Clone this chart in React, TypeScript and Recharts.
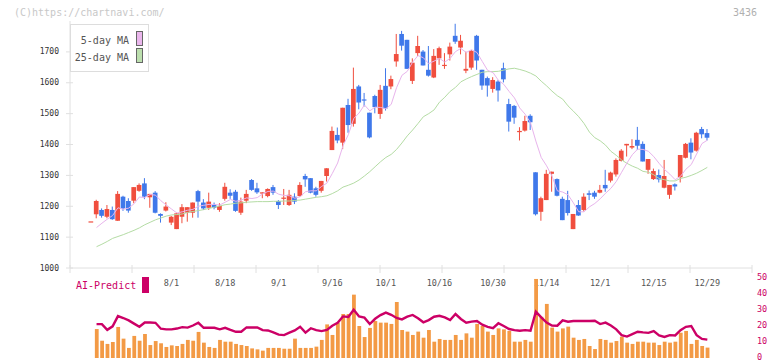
import { ComposedChart, Bar, Line, XAxis, YAxis } from 'recharts';

// tick labels shown under the price panel (trading-day index -> date)
const tickIdx = [15, 25, 35, 45, 55, 65, 75, 85, 95, 105, 115];
const tickLabels = ['8/1', '8/18', '9/1', '9/16', '10/1', '10/16', '10/30', '11/14', '12/1', '12/15', '12/29'];
const priceTicks = [1000, 1100, 1200, 1300, 1400, 1500, 1600, 1700];
const aiTicks = [0, 10, 20, 30, 40, 50];
const frameTicks = [0, 1, 2, 3, 4, 5, 6, 7, 8, 9, 10, 11];

const opens = [
  1151, 1174, 1188, 1166, 1188, 1153, 1231, 1217, 1218, 1250, 1274, 1229, 1244, 1175, 1186, 1147, 1126, 1166, 1179, 1179,
  1249, 1212, 1195, 1204, 1188, 1224, 1244, 1247, 1179, 1218, 1285, 1258, 1242, 1233, 1262, 1217, 1224, 1204, 1231, 1233,
  1298, 1291, 1258, 1250, 1298, 1382, 1431, 1406, 1528, 1467, 1588, 1546, 1503, 1557, 1499, 1590, 1588, 1669, 1758, 1739,
  1606, 1696, 1701, 1642, 1617, 1679, 1657, 1692, 1752, 1714, 1639, 1649, 1752, 1642, 1615, 1580, 1604, 1647, 1531, 1525,
  1440, 1445, 1493, 1310, 1182, 1220, 1305, 1288, 1224, 1220, 1126, 1204, 1188, 1242, 1244, 1244, 1269, 1283, 1303, 1347,
  1397, 1390, 1415, 1402, 1318, 1288, 1301, 1260, 1237, 1271, 1294, 1357, 1406, 1380, 1450, 1437,
];
const highs = [
  1151, 1221, 1193, 1204, 1199, 1249, 1234, 1226, 1262, 1274, 1291, 1240, 1249, 1177, 1213, 1169, 1179, 1207, 1197, 1212,
  1253, 1223, 1244, 1212, 1210, 1276, 1255, 1253, 1228, 1253, 1288, 1276, 1245, 1258, 1269, 1220, 1256, 1253, 1242, 1278,
  1305, 1291, 1263, 1282, 1323, 1458, 1455, 1519, 1548, 1649, 1593, 1567, 1503, 1561, 1593, 1647, 1623, 1758, 1768, 1739,
  1679, 1752, 1706, 1719, 1709, 1717, 1696, 1730, 1791, 1755, 1701, 1706, 1755, 1642, 1620, 1618, 1609, 1665, 1548, 1528,
  1456, 1493, 1498, 1310, 1231, 1318, 1312, 1290, 1231, 1250, 1175, 1220, 1242, 1251, 1250, 1269, 1318, 1312, 1355, 1385,
  1402, 1417, 1457, 1410, 1353, 1322, 1319, 1350, 1269, 1274, 1366, 1405, 1420, 1441, 1457, 1450,
];
const lows = [
  1151, 1161, 1163, 1161, 1156, 1153, 1185, 1179, 1210, 1247, 1223, 1195, 1177, 1147, 1183, 1139, 1126, 1145, 1150, 1163,
  1163, 1188, 1188, 1190, 1182, 1218, 1224, 1182, 1172, 1210, 1250, 1240, 1226, 1229, 1237, 1191, 1204, 1201, 1207, 1231,
  1263, 1242, 1231, 1244, 1280, 1382, 1404, 1385, 1438, 1458, 1514, 1523, 1420, 1501, 1483, 1510, 1579, 1652, 1704, 1645,
  1596, 1687, 1656, 1620, 1615, 1658, 1645, 1672, 1726, 1692, 1631, 1642, 1642, 1577, 1555, 1568, 1539, 1601, 1442, 1467,
  1413, 1442, 1447, 1170, 1153, 1220, 1247, 1232, 1155, 1170, 1126, 1169, 1183, 1220, 1224, 1242, 1247, 1277, 1296, 1345,
  1361, 1385, 1382, 1345, 1305, 1285, 1277, 1258, 1224, 1251, 1277, 1355, 1352, 1377, 1420, 1413,
];
const closes = [
  1151, 1217, 1169, 1191, 1158, 1240, 1193, 1186, 1262, 1269, 1231, 1240, 1179, 1169, 1199, 1166, 1177, 1197, 1197, 1212,
  1215, 1193, 1215, 1195, 1201, 1263, 1234, 1185, 1215, 1240, 1253, 1245, 1245, 1256, 1244, 1204, 1228, 1237, 1215, 1269,
  1287, 1244, 1237, 1282, 1323, 1444, 1413, 1519, 1463, 1580, 1536, 1544, 1423, 1521, 1577, 1517, 1612, 1693, 1720, 1645,
  1665, 1719, 1656, 1623, 1687, 1712, 1658, 1717, 1733, 1736, 1645, 1703, 1672, 1591, 1591, 1609, 1575, 1611, 1474, 1487,
  1444, 1476, 1472, 1174, 1226, 1305, 1312, 1234, 1155, 1178, 1175, 1170, 1231, 1237, 1231, 1253, 1258, 1309, 1350, 1380,
  1402, 1395, 1396, 1345, 1353, 1314, 1287, 1298, 1269, 1264, 1366, 1402, 1374, 1438, 1433, 1422,
];
const ma5 = [
  null, 1131, 1145, 1158, 1170, 1195, 1190, 1194, 1208, 1230, 1228, 1238, 1236, 1218, 1204, 1191, 1178, 1182, 1187, 1190,
  1200, 1203, 1206, 1206, 1204, 1213, 1222, 1216, 1220, 1227, 1225, 1228, 1240, 1248, 1249, 1239, 1235, 1234, 1226, 1231,
  1247, 1250, 1250, 1264, 1275, 1306, 1340, 1396, 1432, 1484, 1502, 1528, 1509, 1521, 1520, 1516, 1530, 1584, 1624, 1637,
  1667, 1688, 1681, 1662, 1670, 1679, 1667, 1679, 1701, 1711, 1698, 1707, 1698, 1669, 1640, 1633, 1608, 1595, 1572, 1551,
  1518, 1498, 1471, 1411, 1358, 1331, 1298, 1250, 1246, 1237, 1211, 1182, 1182, 1198, 1209, 1224, 1242, 1258, 1280, 1310,
  1340, 1367, 1385, 1384, 1378, 1361, 1339, 1319, 1304, 1286, 1297, 1320, 1335, 1369, 1403, 1414,
];
const ma25 = [
  null, 1069, 1077, 1086, 1096, 1102, 1108, 1115, 1122, 1130, 1140, 1148, 1156, 1162, 1168, 1172, 1173, 1175, 1180, 1183,
  1186, 1189, 1193, 1197, 1201, 1205, 1207, 1210, 1211, 1213, 1214, 1215, 1215, 1215, 1216, 1216, 1217, 1217, 1219, 1220,
  1223, 1226, 1229, 1231, 1234, 1241, 1250, 1262, 1268, 1275, 1285, 1298, 1312, 1328, 1344, 1358, 1368, 1384, 1405, 1428,
  1447, 1468, 1490, 1500, 1512, 1537, 1553, 1572, 1585, 1603, 1612, 1620, 1627, 1634, 1636, 1636, 1637, 1641, 1645, 1647,
  1643, 1638, 1631, 1622, 1605, 1590, 1573, 1558, 1547, 1525, 1508, 1490, 1468, 1440, 1422, 1412, 1398, 1378, 1365, 1350,
  1339, 1330, 1323, 1313, 1310, 1302, 1290, 1286, 1282, 1282, 1290, 1294, 1300, 1307, 1316, 1326,
];
const volume = [
  null, 181, 108, 88, 100, 194, 121, 63, 138, 108, 150, 81, 106, 92, 69, 79, 75, 88, 113, 108,
  163, 96, 69, 63, 113, 102, 102, 88, 81, 75, 60, 54, 46, 63, 63, 63, 58, 58, 121, 63,
  63, 63, 71, 113, 210, 144, 221, 275, 275, 396, 200, 131, 188, 231, 221, 221, 213, 350, 175, 165,
  144, 165, 127, 175, 102, 119, 113, 113, 144, 113, 154, 127, 213, 200, 165, 144, 185, 179, 169, 102,
  102, 113, 102, 494, 258, 338, 190, 165, 185, 196, 127, 113, 119, 75, 56, 119, 113, 96, 106, 133,
  96, 88, 102, 102, 96, 96, 81, 102, 96, 102, 158, 169, 88, 113, 75, 65,
];
const aiPredict = [
  null, 21.2, 21.2, 17.6, 19.8, 26.2, 25.0, 23.5, 21.5, 19.5, 22.2, 22.2, 22.0, 18.3, 17.9, 17.9, 18.4, 19.3, 19.0, 20.3,
  22.0, 18.9, 18.9, 18.9, 17.9, 18.9, 17.6, 16.4, 16.4, 19.1, 19.1, 19.1, 17.4, 17.2, 16.0, 14.6, 14.3, 15.8, 17.2, 19.5,
  15.9, 18.6, 17.4, 16.8, 17.6, 20.2, 22.0, 26.0, 25.6, 30.2, 26.0, 25.2, 21.2, 24.5, 26.8, 28.4, 27.0, 25.0, 24.1, 25.8,
  26.9, 24.8, 22.3, 23.7, 25.8, 26.4, 25.4, 23.7, 27.5, 24.4, 22.1, 22.7, 23.1, 20.8, 19.5, 18.7, 21.7, 20.0, 18.1, 17.4,
  17.0, 17.4, 17.0, 29.0, 25.4, 22.1, 20.3, 20.2, 23.5, 22.7, 23.1, 23.1, 23.1, 23.1, 23.3, 21.2, 22.1, 20.3, 17.9, 14.3,
  13.4, 14.9, 16.4, 16.0, 15.7, 16.8, 14.1, 13.2, 14.3, 14.1, 17.4, 19.5, 20.0, 14.3, 11.9, 11.5,
];

const data = closes.map((c, i) => ({
  i,
  open: opens[i],
  high: highs[i],
  low: lows[i],
  close: c,
  range: [lows[i], highs[i]],
  ma5: ma5[i],
  ma25: ma25[i],
  vol: volume[i],
  ai: aiPredict[i],
}));

// the frame of the price panel has evenly spaced tick marks that do not follow the dates
const frameData = frameTicks.map((k) => ({ k, v: 0 }));

const UP = '#f04e3e';
const DOWN = '#3f78ea';
const AXIS = '#e0e0e0';
const AI = '#cc0066';
const MONO = '"DejaVu Sans Mono", monospace';

const Candle = (props: any) => {
  const { x, y, width, height, payload } = props;
  if (!payload || x == null) return null;
  const { open, close, high, low } = payload;
  const color = close >= open ? UP : DOWN;
  const span = high - low;
  const k = span > 0 ? height / span : 0;
  const yOf = (v: number) => y + (high - v) * k;
  const top = yOf(Math.max(open, close));
  const bot = yOf(Math.min(open, close));
  const cx = x + width / 2;
  return (
    <g>
      <line x1={cx} x2={cx} y1={y} y2={y + height} stroke={color} strokeWidth={1} />
      <rect x={x} y={top} width={width} height={Math.max(bot - top, 1.2)} fill={color} />
    </g>
  );
};

const PriceTick = (props: any) => {
  const { x, y, payload } = props;
  return (
    <g>
      <line x1={x - 4} x2={x + 3} y1={y} y2={y} stroke={AXIS} />
      <text x={x - 11} y={y} textAnchor="end" dominantBaseline="central" fontSize={8} fontFamily={MONO} fill="#333">
        {payload.value}
      </text>
    </g>
  );
};

const DateTick = (props: any) => {
  const { x, y, payload } = props;
  const k = tickIdx.indexOf(payload.value);
  return (
    <text x={x} y={y + 14.5} textAnchor="middle" dominantBaseline="central" fontSize={8.5} fontFamily={MONO} fill="#555">
      {k >= 0 ? tickLabels[k] : ''}
    </text>
  );
};

const FrameTick = (props: any) => {
  const { x, y } = props;
  return <line x1={x} x2={x} y1={y - 3} y2={y + 5} stroke={AXIS} />;
};

const AiTick = (props: any) => {
  const { x, y, payload } = props;
  return (
    <text x={x + 5} y={y - 1.5} textAnchor="start" dominantBaseline="central" fontSize={8.5} fontFamily={MONO} fill={AI}>
      {payload.value}
    </text>
  );
};

export default function App() {
  return (
    <div style={{ position: 'absolute', left: 0, top: 0, width: 772, height: 361, background: '#fff', overflow: 'hidden' }}>
      {/* frame tick marks */}
      <div style={{ position: 'absolute', left: 0, top: 0 }}>
        <ComposedChart width={772} height={361} data={frameData} margin={{ top: 21, right: 20, bottom: 92, left: 70 }}>
          <XAxis
            dataKey="k"
            type="number"
            domain={[0, 11]}
            ticks={frameTicks}
            interval={0}
            height={1}
            axisLine={false}
            tickLine={false}
            tickSize={0}
            tickMargin={0}
            tick={<FrameTick />}
          />
          <YAxis hide domain={[0, 1]} />
          <Line dataKey="v" stroke="none" dot={false} isAnimationActive={false} />
        </ComposedChart>
      </div>

      <div style={{ position: 'absolute', left: 0, top: 0 }}>
        <ComposedChart width={772} height={361} data={data} margin={{ top: 21, right: 20, bottom: 92, left: 0 }}>
          <XAxis
            dataKey="i"
            type="category"
            padding={{ left: 18.5, right: 42 }}
            ticks={tickIdx}
            interval={0}
            height={1}
            axisLine={{ stroke: AXIS }}
            tickLine={false}
            tickSize={0}
            tickMargin={0}
            tick={<DateTick />}
          />
          <YAxis
            type="number"
            domain={[1000, 1800]}
            allowDataOverflow
            ticks={priceTicks}
            interval={0}
            width={70}
            axisLine={{ stroke: AXIS }}
            tickLine={false}
            tickSize={0}
            tickMargin={0}
            tick={<PriceTick />}
          />
          <Line dataKey="ma25" type="linear" stroke="#b4dca4" strokeWidth={1} dot={false} connectNulls isAnimationActive={false} />
          <Line dataKey="ma5" type="linear" stroke="#e8b4ec" strokeWidth={1} dot={false} connectNulls isAnimationActive={false} />
          <Bar dataKey="range" barSize={4.7} shape={(p: any) => <Candle {...p} />} isAnimationActive={false} />
        </ComposedChart>
      </div>

      <div style={{ position: 'absolute', left: 0, top: 0 }}>
        <ComposedChart width={772} height={361} data={data} margin={{ top: 278, right: 0, bottom: 3, left: 70 }}>
          <XAxis dataKey="i" type="category" hide padding={{ left: 18.5, right: 42 }} />
          <YAxis yAxisId="vol" hide domain={[0, 500]} allowDataOverflow />
          <YAxis
            yAxisId="ai"
            orientation="right"
            width={20}
            domain={[0, 50]}
            allowDataOverflow
            ticks={aiTicks}
            interval={0}
            axisLine={false}
            tickLine={false}
            tickSize={0}
            tickMargin={0}
            tick={<AiTick />}
          />
          <Bar yAxisId="vol" dataKey="vol" fill="#f39a45" barSize={3.8} isAnimationActive={false} />
          <Line yAxisId="ai" dataKey="ai" type="linear" stroke={AI} strokeWidth={2.4} dot={false} isAnimationActive={false} />
        </ComposedChart>
      </div>

      <div style={{ position: 'absolute', left: 14, top: 7, fontFamily: MONO, fontSize: 10, lineHeight: '11px', color: '#c8c8c8' }}>
        (C)https://chartnavi.com/
      </div>
      <div style={{ position: 'absolute', right: 15, top: 7, fontFamily: MONO, fontSize: 10, lineHeight: '11px', color: '#b0b0b0' }}>
        3436
      </div>

      {/* MA legend */}
      <div
        style={{
          position: 'absolute', left: 70, top: 24, width: 79, height: 48, boxSizing: 'border-box',
          border: '1px solid #dddddd', background: '#fff', fontFamily: MONO, fontSize: 10, color: '#555',
        }}
      >
        <div style={{ position: 'absolute', right: 19, top: 10, lineHeight: '11px', whiteSpace: 'nowrap' }}>5-day MA</div>
        <div style={{ position: 'absolute', right: 19, top: 27, lineHeight: '11px', whiteSpace: 'nowrap' }}>25-day MA</div>
        <div style={{ position: 'absolute', left: 65, top: 6, width: 7, height: 15, boxSizing: 'border-box', border: '1px solid #666', background: '#eab6ec' }} />
        <div style={{ position: 'absolute', left: 65, top: 23, width: 7, height: 15, boxSizing: 'border-box', border: '1px solid #666', background: '#bcdfae' }} />
      </div>

      {/* AI-Predict legend */}
      <div style={{ position: 'absolute', left: 76, top: 280, fontFamily: MONO, fontSize: 10, lineHeight: '11px', color: AI }}>
        AI-Predict
      </div>
      <div style={{ position: 'absolute', left: 142, top: 277, width: 7, height: 16, background: AI }} />
    </div>
  );
}
